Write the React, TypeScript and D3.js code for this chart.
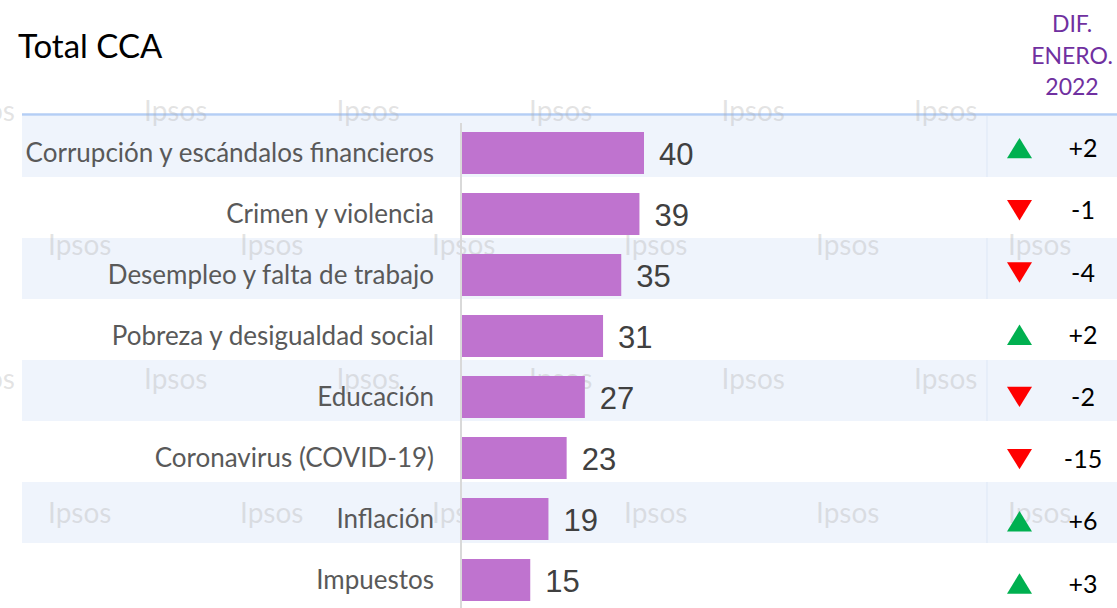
import React, { useEffect, useRef } from 'react';
import * as d3 from 'd3';

// chart data
const categories = [
  'Corrupción y escándalos financieros',
  'Crimen y violencia',
  'Desempleo y falta de trabajo',
  'Pobreza y desigualdad social',
  'Educación',
  'Coronavirus (COVID-19)',
  'Inflación',
  'Impuestos',
];
const values = [40, 39, 35, 31, 27, 23, 19, 15];
const diffs = [2, -1, -4, 2, -2, -15, 6, 3];
const headerLines = ['DIF.', 'ENERO.', '2022'];
const title = 'Total CCA';

const W = 1117;
const H = 608;
const calibri = 'Lato, "Open Sans", sans-serif';

const App = () => {
  const ref = useRef<SVGSVGElement>(null);

  useEffect(() => {
    const svg = d3.select(ref.current);
    svg.selectAll('*').remove();

    const rows = d3.scaleBand<string>().domain(categories).range([116, 116 + 61 * categories.length]);
    // the diff column sits on a slightly different pitch in the original slide
    const diffRows = d3.scaleBand<string>().domain(categories).range([117, 117 + 62.2 * categories.length]);
    const x = d3.scaleLinear().domain([0, 40]).range([462, 644]);
    const rowH = rows.bandwidth();
    const mid = (c: string) => (rows(c) as number) + 37;
    const dmid = (c: string) => (diffRows(c) as number) + diffRows.bandwidth() / 2;

    // shaded bands
    svg.append('g')
      .selectAll('rect')
      .data(categories.filter((_, i) => i % 2 === 0))
      .join('rect')
        .attr('x', 22)
        .attr('y', d => rows(d) as number)
        .attr('width', W - 22)
        .attr('height', rowH)
        .attr('fill', '#eff4fc');

    // column separator inside shaded bands
    svg.append('g')
      .selectAll('line')
      .data(categories.filter((_, i) => i % 2 === 0))
      .join('line')
        .attr('x1', 987).attr('x2', 987)
        .attr('y1', d => rows(d) as number)
        .attr('y2', d => (rows(d) as number) + rowH)
        .attr('stroke', '#dde7f6')
        .attr('stroke-width', 1);

    // header line
    svg.append('line')
      .attr('x1', 22).attr('x2', W)
      .attr('y1', 114.5).attr('y2', 114.5)
      .attr('stroke', '#b4cef5')
      .attr('stroke-width', 2.5);

    // watermarks
    const wm = svg.append('g')
      .attr('font-family', calibri)
      .attr('font-size', 28)
      .attr('fill', '#b0b0b0')
      .attr('fill-opacity', 0.35);
    const wmRows = [121, 255, 389, 523];
    wmRows.forEach((y, r) => {
      const xs = r % 2 === 0 ? d3.range(6).map(i => -48.5 + i * 192.5) : d3.range(6).map(i => 48 + i * 192);
      xs.forEach(xx => {
        wm.append('text').attr('x', xx).attr('y', y).text('Ipsos');
      });
    });

    // axis line
    svg.append('line')
      .attr('x1', 461).attr('x2', 461)
      .attr('y1', 123).attr('y2', H)
      .attr('stroke', '#d9d9d9')
      .attr('stroke-width', 2);

    // bars
    svg.append('g')
      .selectAll('rect')
      .data(values)
      .join('rect')
        .attr('x', x(0))
        .attr('y', (_, i) => mid(categories[i]) - 21)
        .attr('width', d => x(d) - x(0))
        .attr('height', 42)
        .attr('fill', '#bf73cf');

    // value labels
    svg.append('g')
      .attr('font-family', '"Liberation Sans", Arial, sans-serif')
      .attr('font-size', 31)
      .attr('fill', '#404040')
      .selectAll('text')
      .data(values)
      .join('text')
        .attr('x', d => x(d) + 15)
        .attr('y', (_, i) => mid(categories[i]) + 12)
        .text(d => d);

    // category labels
    svg.append('g')
      .attr('font-family', calibri)
      .attr('font-size', 26)
      .attr('fill', '#595959')
      .attr('text-anchor', 'end')
      .selectAll('text')
      .data(categories)
      .join('text')
        .attr('x', 434)
        .attr('y', d => mid(d) + 9)
        .text(d => d);

    // arrows
    const tw = 12.5;
    const th = 10.2;
    svg.append('g')
      .selectAll('path')
      .data(diffs)
      .join('path')
        .attr('d', d => {
          const p = d3.path();
          if (d > 0) {
            p.moveTo(0, -th); p.lineTo(tw, th); p.lineTo(-tw, th);
          } else {
            p.moveTo(-tw, -th); p.lineTo(tw, -th); p.lineTo(0, th);
          }
          p.closePath();
          return p.toString();
        })
        .attr('transform', (_, i) => `translate(1019.5,${dmid(categories[i])})`)
        .attr('fill', d => (d > 0 ? '#00b050' : '#ff0000'));

    // diff labels
    svg.append('g')
      .attr('font-family', calibri)
      .attr('font-size', 25)
      .attr('fill', '#000')
      .attr('text-anchor', 'middle')
      .selectAll('text')
      .data(diffs)
      .join('text')
        .attr('x', 1083)
        .attr('y', (_, i) => dmid(categories[i]) + 9)
        .text(d => (d > 0 ? `+${d}` : `${d}`));

    // header
    svg.append('g')
      .attr('font-family', calibri)
      .attr('font-size', 23)
      .attr('fill', '#7030a0')
      .attr('text-anchor', 'middle')
      .selectAll('text')
      .data(headerLines)
      .join('text')
        .attr('x', 1072)
        .attr('y', (_, i) => 32 + i * 31.5)
        .text(d => d);

    // title
    svg.append('text')
      .attr('x', 18)
      .attr('y', 58)
      .attr('font-family', calibri)
      .attr('font-size', 33)
      .attr('fill', '#000')
      .text(title);
  }, []);

  return (
    <div style={{ position: 'absolute', left: 0, top: 0 }}>
      <svg ref={ref} width={W} height={H} style={{ display: 'block', background: '#fff' }} />
    </div>
  );
};

export default App;
